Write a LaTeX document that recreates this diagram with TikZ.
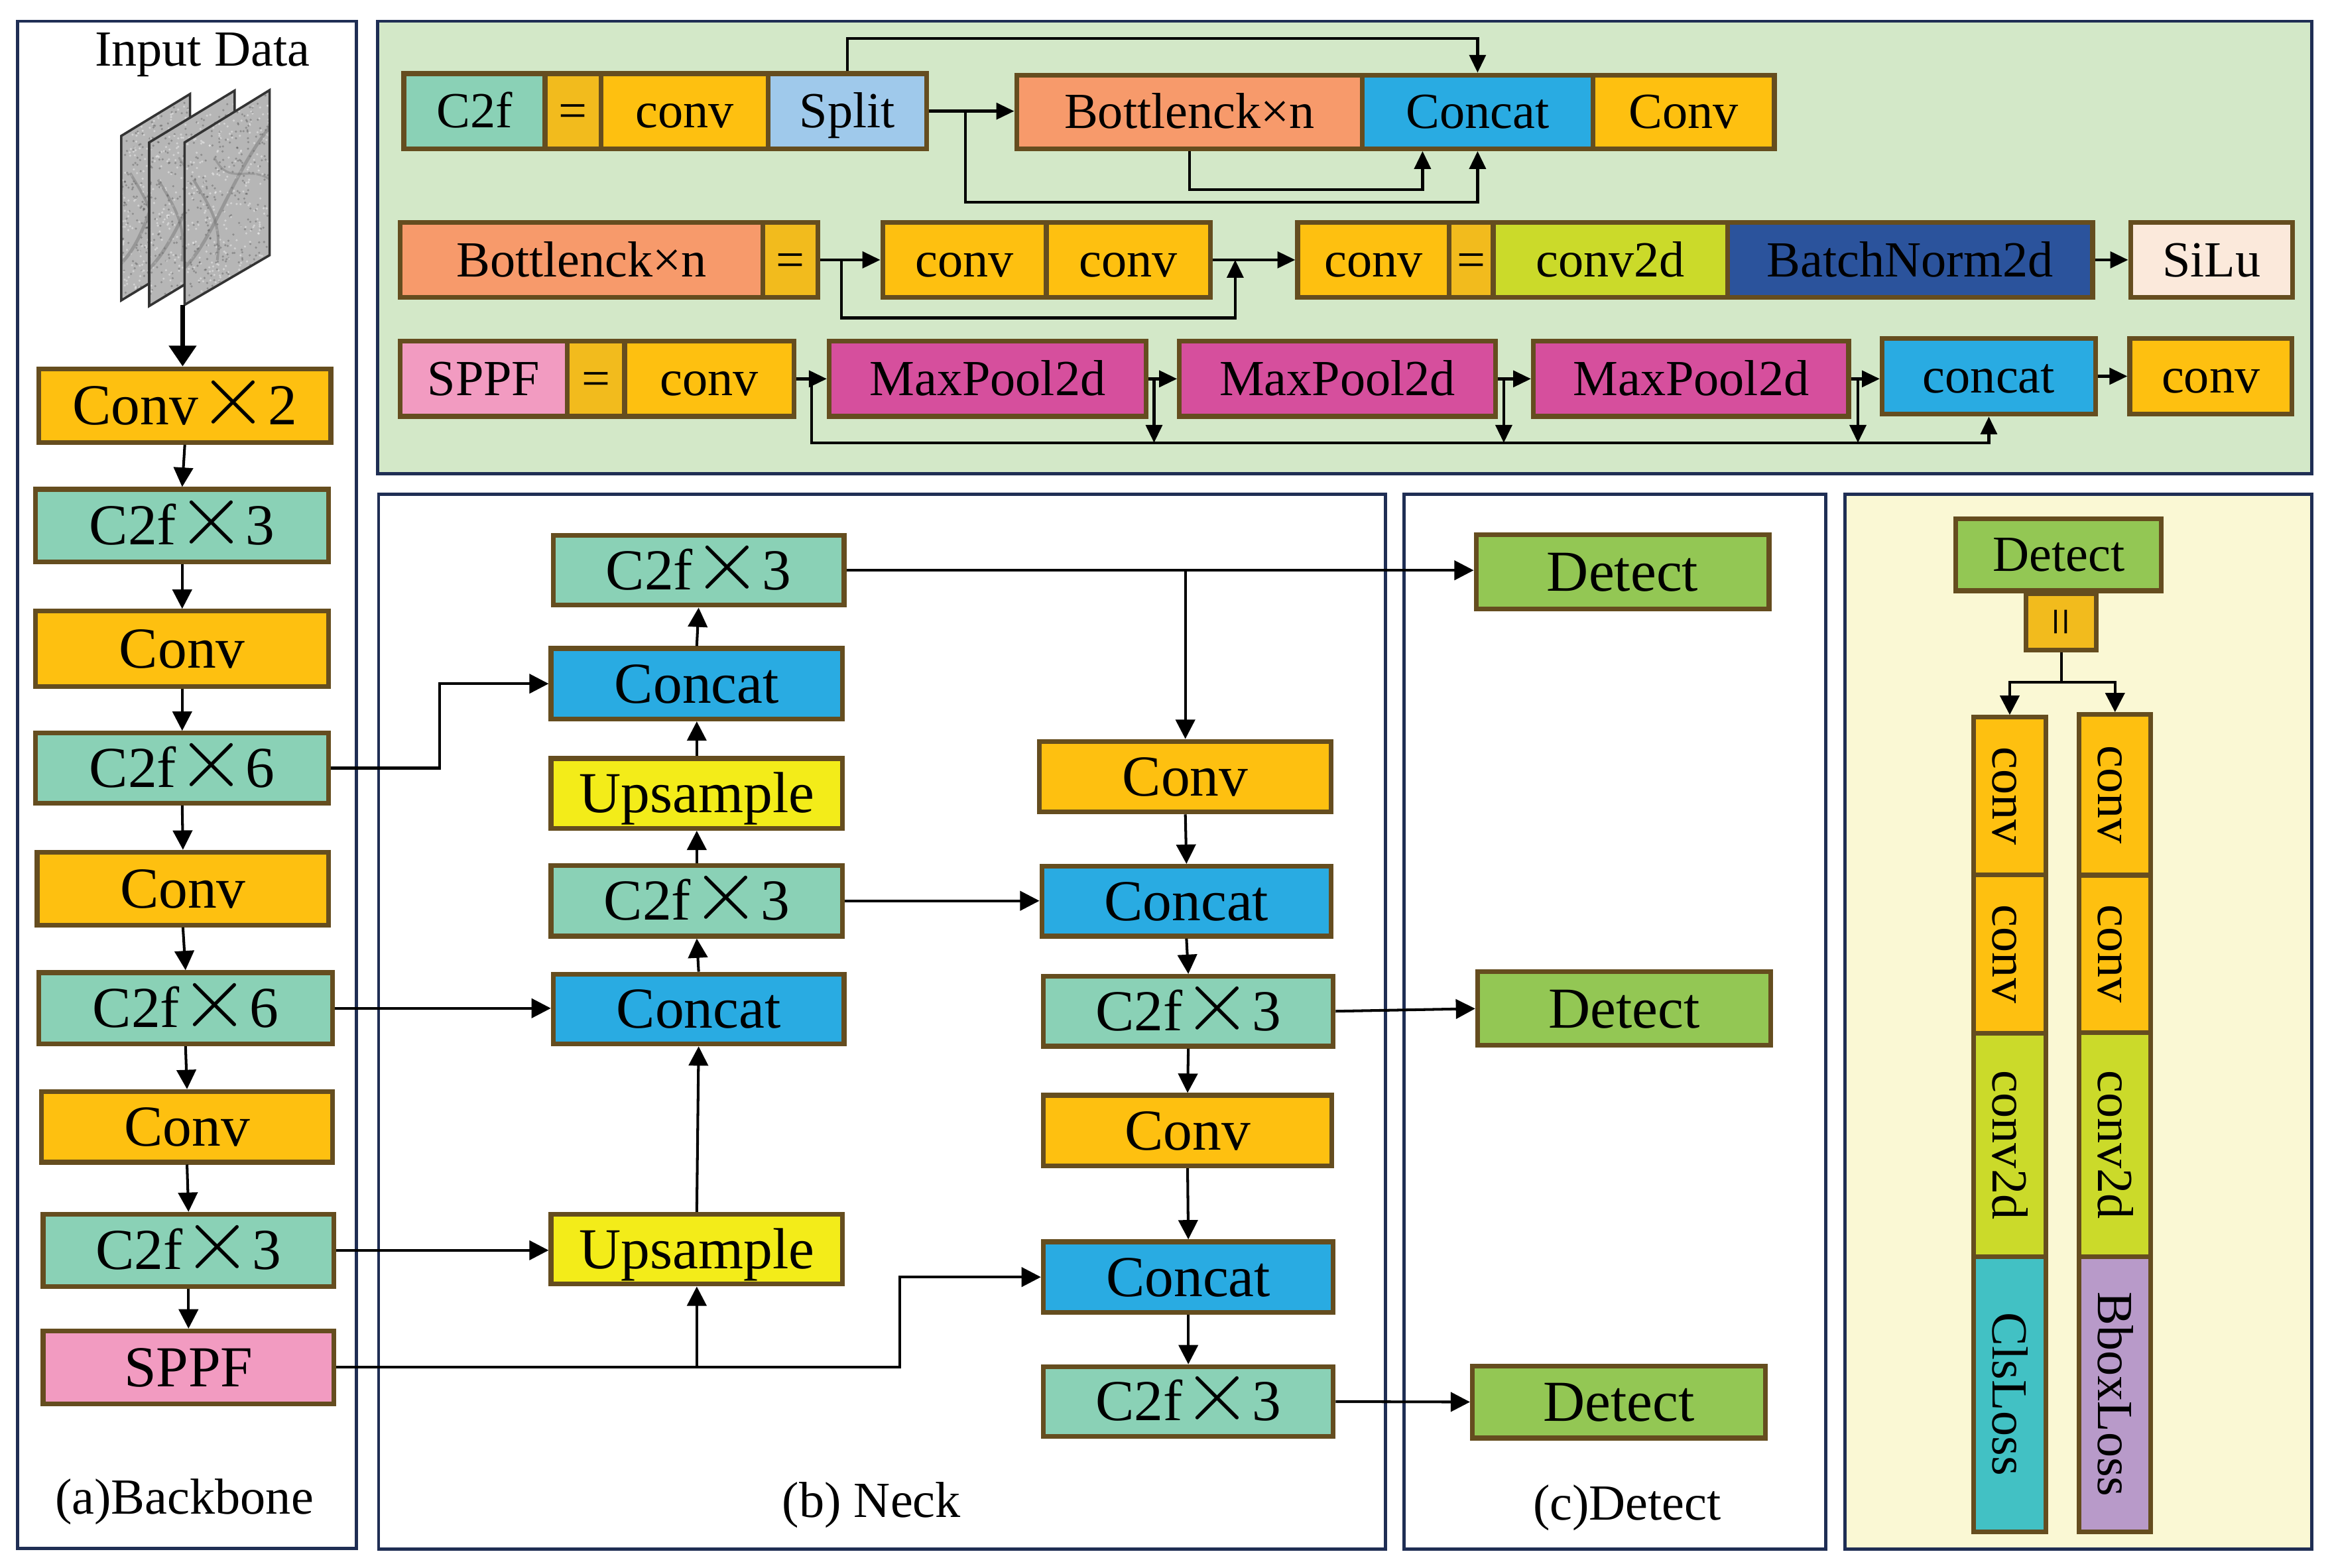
\documentclass[tikz,border=0pt]{standalone}
\usepackage{fontspec}
\setmainfont{Liberation Serif}
\usepackage{graphicx}
\usetikzlibrary{arrows.meta,calc}

\definecolor{cOrange}{HTML}{FEC010}
\definecolor{cEq}{HTML}{F2BB1D}
\definecolor{cTeal}{HTML}{8AD1B6}
\definecolor{cBlue}{HTML}{29ABE2}
\definecolor{cYellow}{HTML}{F3EC19}
\definecolor{cPink}{HTML}{F29BC1}
\definecolor{cGreen}{HTML}{93C754}
\definecolor{cSalmon}{HTML}{F79A6B}
\definecolor{cLBlue}{HTML}{9FC9EB}
\definecolor{cLime}{HTML}{CBDA2A}
\definecolor{cDBlue}{HTML}{2B539C}
\definecolor{cBeige}{HTML}{FBE9DB}
\definecolor{cMag}{HTML}{D64F9D}
\definecolor{cCls}{HTML}{42C1C4}
\definecolor{cLav}{HTML}{B89AC9}
\definecolor{cTopBg}{HTML}{D3E8C8}
\definecolor{cRBg}{HTML}{FAF8D4}
\definecolor{cNavy}{HTML}{1F2E54}
\definecolor{cBrown}{HTML}{654D1F}
\definecolor{cImg}{HTML}{B6B6B6}

\newcommand{\bigx}{\scalebox{1.45}{$\times$}}
% \bx{name}{x1}{y1}{x2}{y2}{style}{text}
\newcommand{\bx}[7]{%
  \node[box,#6,minimum width={(#4-#2)*0.5pt},minimum height={(#5-#3)*0.5pt}]
    (#1) at ({(#2+#4)/2},{(#3+#5)/2}) {#7};}
\newcommand{\imgpanel}[8]{%
  \begin{scope}
    \clip (#1,#2) -- (#3,#4) -- (#5,#6) -- (#7,#8) -- cycle;
    \fill[cImg] (#1,#2) -- (#3,#4) -- (#5,#6) -- (#7,#8) -- cycle;
    \foreach \k in {1,...,300} {\fill[black,opacity=0.22] ({#1+(#3-#1)*rnd},{#4+(#8-#4)*rnd}) circle (0.8);}
    \foreach \k in {1,...,300} {\fill[white,opacity=0.4] ({#1+(#3-#1)*rnd},{#4+(#8-#4)*rnd}) circle (0.8);}
    \draw[black!55,line width=1.1pt,opacity=0.45] (#1,#8-25) .. controls (#1+20,#8-45) and (#3-25,#6-55) .. (#3,#4+25);
    \draw[black!55,line width=0.9pt,opacity=0.45] (#1+6,#2+25) .. controls (#1+18,#2+45) and (#1+25,#8-55) .. (#1+22,#8-30);
    \draw[black!55,line width=0.7pt,opacity=0.4] (#1+20,#2+10) .. controls (#1+30,#2+30) and (#3-15,#4+50) .. (#3,#4+60);
  \end{scope}
  \draw[black!80,line width=0.8pt] (#1,#2) -- (#3,#4) -- (#5,#6) -- (#7,#8) -- cycle;
}

\begin{document}
\begin{tikzpicture}[x=0.5pt,y=-0.5pt,
  panel/.style={draw=cNavy,line width=1.05pt},
  box/.style={draw=cBrown,line width=1.6pt,inner sep=0pt},
  bigf/.style={font=\fontsize{19.5}{20}\selectfont,text height=12.9pt,text depth=0pt},
  medf/.style={font=\fontsize{17}{18}\selectfont,text height=11.2pt,text depth=0pt},
  lbl/.style={font=\fontsize{17}{18}\selectfont,inner sep=0pt},
  arr/.style={line width=0.9pt,-{Triangle[length=6.5pt,width=6.5pt]}},
  tarr/.style={line width=1pt,-{Triangle[length=6pt,width=5.5pt]}},
  thickarr/.style={line width=1.6pt,-{Triangle[length=7pt,width=9pt]}}]

\useasboundingbox (0,0) rectangle (1568,1054);

% panels
\draw[panel] (11.9,14.3) rectangle (239.6,1041.3);
\draw[panel,fill=cTopBg] (253.9,14.3) rectangle (1554.5,318.7);
\draw[panel] (254.6,332.4) rectangle (931.4,1041.8);
\draw[panel] (944,332.4) rectangle (1227.7,1041.8);
\draw[panel,fill=cRBg] (1240.5,332.5) rectangle (1554.4,1041.6);

% ---------------- backbone ----------------
\node[lbl] (inp) at (136,37) {Input Data};
\pgfmathsetseed{3}
\imgpanel{81.5}{91.4}{127.8}{63.2}{127.8}{174}{81.5}{202}
\imgpanel{100.3}{95.8}{157.8}{60.9}{157.8}{171}{100.3}{205.8}
\imgpanel{124.1}{95.8}{181.3}{60.6}{181.3}{171.6}{124.1}{205}
\coordinate (imgb) at (122.8,205);

\bx{bb1}{26}{248}{222.5}{297.5}{bigf,fill=cOrange}{Conv\bigx 2}
\bx{bb2}{24}{329}{221}{378}{bigf,fill=cTeal}{C2f\bigx 3}
\bx{bb3}{24}{411}{221}{461.5}{bigf,fill=cOrange}{Conv}
\bx{bb4}{24}{493}{221}{540}{bigf,fill=cTeal}{C2f\bigx 6}
\bx{bb5}{25}{573}{221}{622}{bigf,fill=cOrange}{Conv}
\bx{bb6}{26}{654}{223.5}{702}{bigf,fill=cTeal}{C2f\bigx 6}
\bx{bb7}{28}{734}{223.5}{781.5}{bigf,fill=cOrange}{Conv}
\bx{bb8}{29}{816.5}{224.5}{865}{bigf,fill=cTeal}{C2f\bigx 3}
\bx{bb9}{29}{895}{224.5}{944}{bigf,fill=cPink}{SPPF}
\node[lbl] (lba) at (124,1010) {(a)Backbone};

\draw[thickarr] (imgb) -- (imgb |- bb1.north);
\draw[arr] (bb1.south) -- (bb2.north);
\draw[arr] (bb2.south) -- (bb3.north);
\draw[arr] (bb3.south) -- (bb4.north);
\draw[arr] (bb4.south) -- (bb5.north);
\draw[arr] (bb5.south) -- (bb6.north);
\draw[arr] (bb6.south) -- (bb7.north);
\draw[arr] (bb7.south) -- (bb8.north);
\draw[arr] (bb8.south) -- (bb9.north);

% ---------------- neck ----------------
\bx{nc1}{372}{360}{567.5}{407}{bigf,fill=cTeal}{C2f\bigx 3}
\bx{ncat1}{370.5}{436}{566.5}{483.5}{bigf,fill=cBlue}{Concat}
\bx{nup1}{370.5}{510}{566.5}{557}{bigf,fill=cYellow}{Upsample}
\bx{nc2}{370.5}{582}{566.5}{629.5}{bigf,fill=cTeal}{C2f\bigx 3}
\bx{ncat2}{372}{655}{567.5}{702}{bigf,fill=cBlue}{Concat}
\bx{nup2}{370.5}{816.5}{566.5}{863.5}{bigf,fill=cYellow}{Upsample}
\bx{nconv1}{699}{498.5}{895}{546}{bigf,fill=cOrange}{Conv}
\bx{ncat3}{700.5}{582.5}{895}{629.5}{bigf,fill=cBlue}{Concat}
\bx{nc3}{701.5}{656.5}{896.5}{703.5}{bigf,fill=cTeal}{C2f\bigx 3}
\bx{nconv2}{701.5}{736.5}{895.5}{784}{bigf,fill=cOrange}{Conv}
\bx{ncat4}{701.5}{835}{896.5}{882.5}{bigf,fill=cBlue}{Concat}
\bx{nc4}{701.5}{919}{896.5}{966}{bigf,fill=cTeal}{C2f\bigx 3}
\node[lbl] (lbb) at (586,1012) {(b) Neck};

% ---------------- detect ----------------
\bx{det1}{992.5}{359.5}{1189.5}{409.5}{bigf,fill=cGreen}{Detect}
\bx{det2}{993.5}{653.5}{1190.5}{703}{bigf,fill=cGreen}{Detect}
\bx{det3}{990}{918.5}{1187}{967}{bigf,fill=cGreen}{Detect}
\node[lbl] (lbc) at (1094,1014) {(c)Detect};

% neck connectors
\draw[arr] (bb4.east) -- ++(73,0) |- (ncat1.west);
\draw[arr] (bb6.east) -- (bb6.east -| ncat2.west);
\draw[arr] (bb8.east) -- (bb8.east -| nup2.west);
\draw[arr] (bb9.east) -| ($(ncat4.west)+(-95,0)$) -- (ncat4.west);
\draw[arr] (nup2.south |- bb9.east) -- (nup2.south);
\draw[arr] (nup2.north) -- (ncat2.south);
\draw[arr] (ncat2.north) -- (nc2.south);
\draw[arr] (nc2.north) -- (nup1.south);
\draw[arr] (nup1.north) -- (ncat1.south);
\draw[arr] (ncat1.north) -- (nc1.south);
\draw[arr] (nc1.east) -- (nc1.east -| det1.west);
\draw[arr] (nconv1.north |- nc1.east) -- (nconv1.north);
\draw[arr] (nc2.east) -- (nc2.east -| ncat3.west);
\draw[arr] (nconv1.south) -- (ncat3.north);
\draw[arr] (ncat3.south) -- (nc3.north);
\draw[arr] (nc3.south) -- (nconv2.north);
\draw[arr] (nconv2.south) -- (ncat4.north);
\draw[arr] (ncat4.south) -- (nc4.north);
\draw[arr] (nc3.east) -- (det2.west);
\draw[arr] (nc4.east) -- (det3.west);

% ---------------- right panel ----------------
\bx{rdet}{1315}{348.8}{1453.3}{397.2}{medf,fill=cGreen}{Detect}
\bx{req}{1362.4}{399.2}{1409.6}{437}{fill=cEq}{}
\node[medf,rotate=90] at (req) {=};
\bx{lc1}{1327}{482.3}{1375.6}{588.2}{fill=cOrange}{}
\bx{lc2}{1327}{588.2}{1375.6}{695}{fill=cOrange}{}
\bx{lc3}{1327}{695}{1375.6}{845}{fill=cLime}{}
\bx{lc4}{1327}{845}{1375.6}{1030}{fill=cCls}{}
\bx{rc1}{1398}{480.5}{1446.2}{588.5}{fill=cOrange}{}
\bx{rc2}{1398}{588.5}{1446.2}{694.5}{fill=cOrange}{}
\bx{rc3}{1398}{694.5}{1446.2}{845}{fill=cLime}{}
\bx{rc4}{1398}{845}{1446.2}{1030}{fill=cLav}{}
\node[medf,rotate=-90] at (lc1) {conv};
\node[medf,rotate=-90] at (lc2) {conv};
\node[medf,rotate=-90] at (lc3) {conv2d};
\node[medf,rotate=-90] at (lc4) {ClsLoss};
\node[medf,rotate=-90] at (rc1) {conv};
\node[medf,rotate=-90] at (rc2) {conv};
\node[medf,rotate=-90] at (rc3) {conv2d};
\node[medf,rotate=-90] at (rc4) {BboxLoss};
\draw[arr] (req.south) -- ++(0,20) -| (lc1.north);
\draw[arr] (req.south) -- ++(0,20) -| (rc1.north);

% ---------------- top panel ----------------
% row 1
\bx{c2f}{271.5}{49.5}{366.5}{100}{medf,fill=cTeal}{C2f}
\bx{eq1}{366.5}{49.5}{404}{100}{medf,fill=cEq}{=}
\bx{t1conv}{404}{49.5}{516.5}{100}{medf,fill=cOrange}{conv}
\bx{split}{516.5}{49.5}{623}{100}{medf,fill=cLBlue}{Split}
\bx{bott1}{683.5}{50.5}{916}{100}{medf,fill=cSalmon}{Bottlenck×n}
\bx{concat1}{916}{50.5}{1071}{100}{medf,fill=cBlue}{Concat}
\bx{tconv1}{1071}{50.5}{1193}{100}{medf,fill=cOrange}{Conv}
\draw[tarr] (split.east) -- (split.east -| bott1.west);
\coordinate (sb) at ($(split.east)!0.43!(bott1.west)$);
\draw[tarr] (split.north) -- ++(0,-22) -| (concat1.north);
\draw[tarr] (bott1.south) -- ++(0,26) -| ($(concat1.south)+(-37,0)$);
\draw[tarr] (sb) -- ++(0,61) -| (concat1.south);
% row 2
\bx{bott2}{269}{149.5}{513}{200}{medf,fill=cSalmon}{Bottlenck×n}
\bx{eq2}{513}{149.5}{550}{200}{medf,fill=cEq}{=}
\bx{conv2a}{593.5}{149.5}{703.5}{200}{medf,fill=cOrange}{conv}
\bx{conv2b}{703.5}{149.5}{814}{200}{medf,fill=cOrange}{conv}
\bx{conv2c}{872.5}{149.5}{974.5}{200}{medf,fill=cOrange}{conv}
\bx{eq3}{974.5}{149.5}{1004}{200}{medf,fill=cEq}{=}
\bx{cv2d}{1004}{149.5}{1161.5}{200}{medf,fill=cLime}{conv2d}
\bx{bn}{1161.5}{149.5}{1407}{200}{medf,fill=cDBlue}{BatchNorm2d}
\bx{silu}{1432.5}{149.5}{1541.5}{200}{medf,fill=cBeige}{SiLu}
\draw[tarr] (eq2.east) -- (conv2a.west);
\coordinate (r2a) at ($(eq2.east)!0.35!(conv2a.west)$);
\draw[tarr] (conv2b.east) -- (conv2c.west);
\coordinate (r2b) at ($(conv2b.east)!0.27!(conv2c.west)$);
\draw[tarr] (r2a) -- ++(0,39) -| (r2b);
\draw[tarr] (bn.east) -- (silu.west);
% row 3
\bx{sppf2}{269}{229.5}{381.5}{280}{medf,fill=cPink}{SPPF}
\bx{eq4}{381.5}{229.5}{420}{280}{medf,fill=cEq}{=}
\bx{conv3}{420}{229.5}{534}{280}{medf,fill=cOrange}{conv}
\bx{mp1}{557.5}{229.5}{770.5}{280}{medf,fill=cMag}{MaxPool2d}
\bx{mp2}{793}{229.5}{1005.5}{280}{medf,fill=cMag}{MaxPool2d}
\bx{mp3}{1031}{229.5}{1243}{280}{medf,fill=cMag}{MaxPool2d}
\bx{cat3}{1265.5}{227.5}{1409}{278.5}{medf,fill=cBlue}{concat}
\bx{conv3b}{1432}{227.5}{1541}{278.5}{medf,fill=cOrange}{conv}
\draw[tarr] (conv3.east) -- (mp1.west);
\draw[tarr] (mp1.east) -- (mp2.west);
\draw[tarr] (mp2.east) -- (mp3.west);
\draw[tarr] (mp3.east) -- (mp3.east -| cat3.west);
\draw[tarr] (cat3.east) -- (conv3b.west);
\coordinate (r3a) at ($(conv3.east)!0.5!(mp1.west)$);
\coordinate (bus) at ($(r3a)+(0,43)$);
\draw[tarr] (r3a) -- (bus) -| (cat3.south);
\coordinate (d1) at ($(mp1.east)!0.2!(mp2.west)$);
\coordinate (d2) at ($(mp2.east)!0.18!(mp3.west)$);
\coordinate (d3) at ($(mp3.east)!0.24!(mp3.east -| cat3.west)$);
\draw[tarr] (d1) -- (d1 |- bus);
\draw[tarr] (d2) -- (d2 |- bus);
\draw[tarr] (d3) -- (d3 |- bus);

\end{tikzpicture}
\end{document}
